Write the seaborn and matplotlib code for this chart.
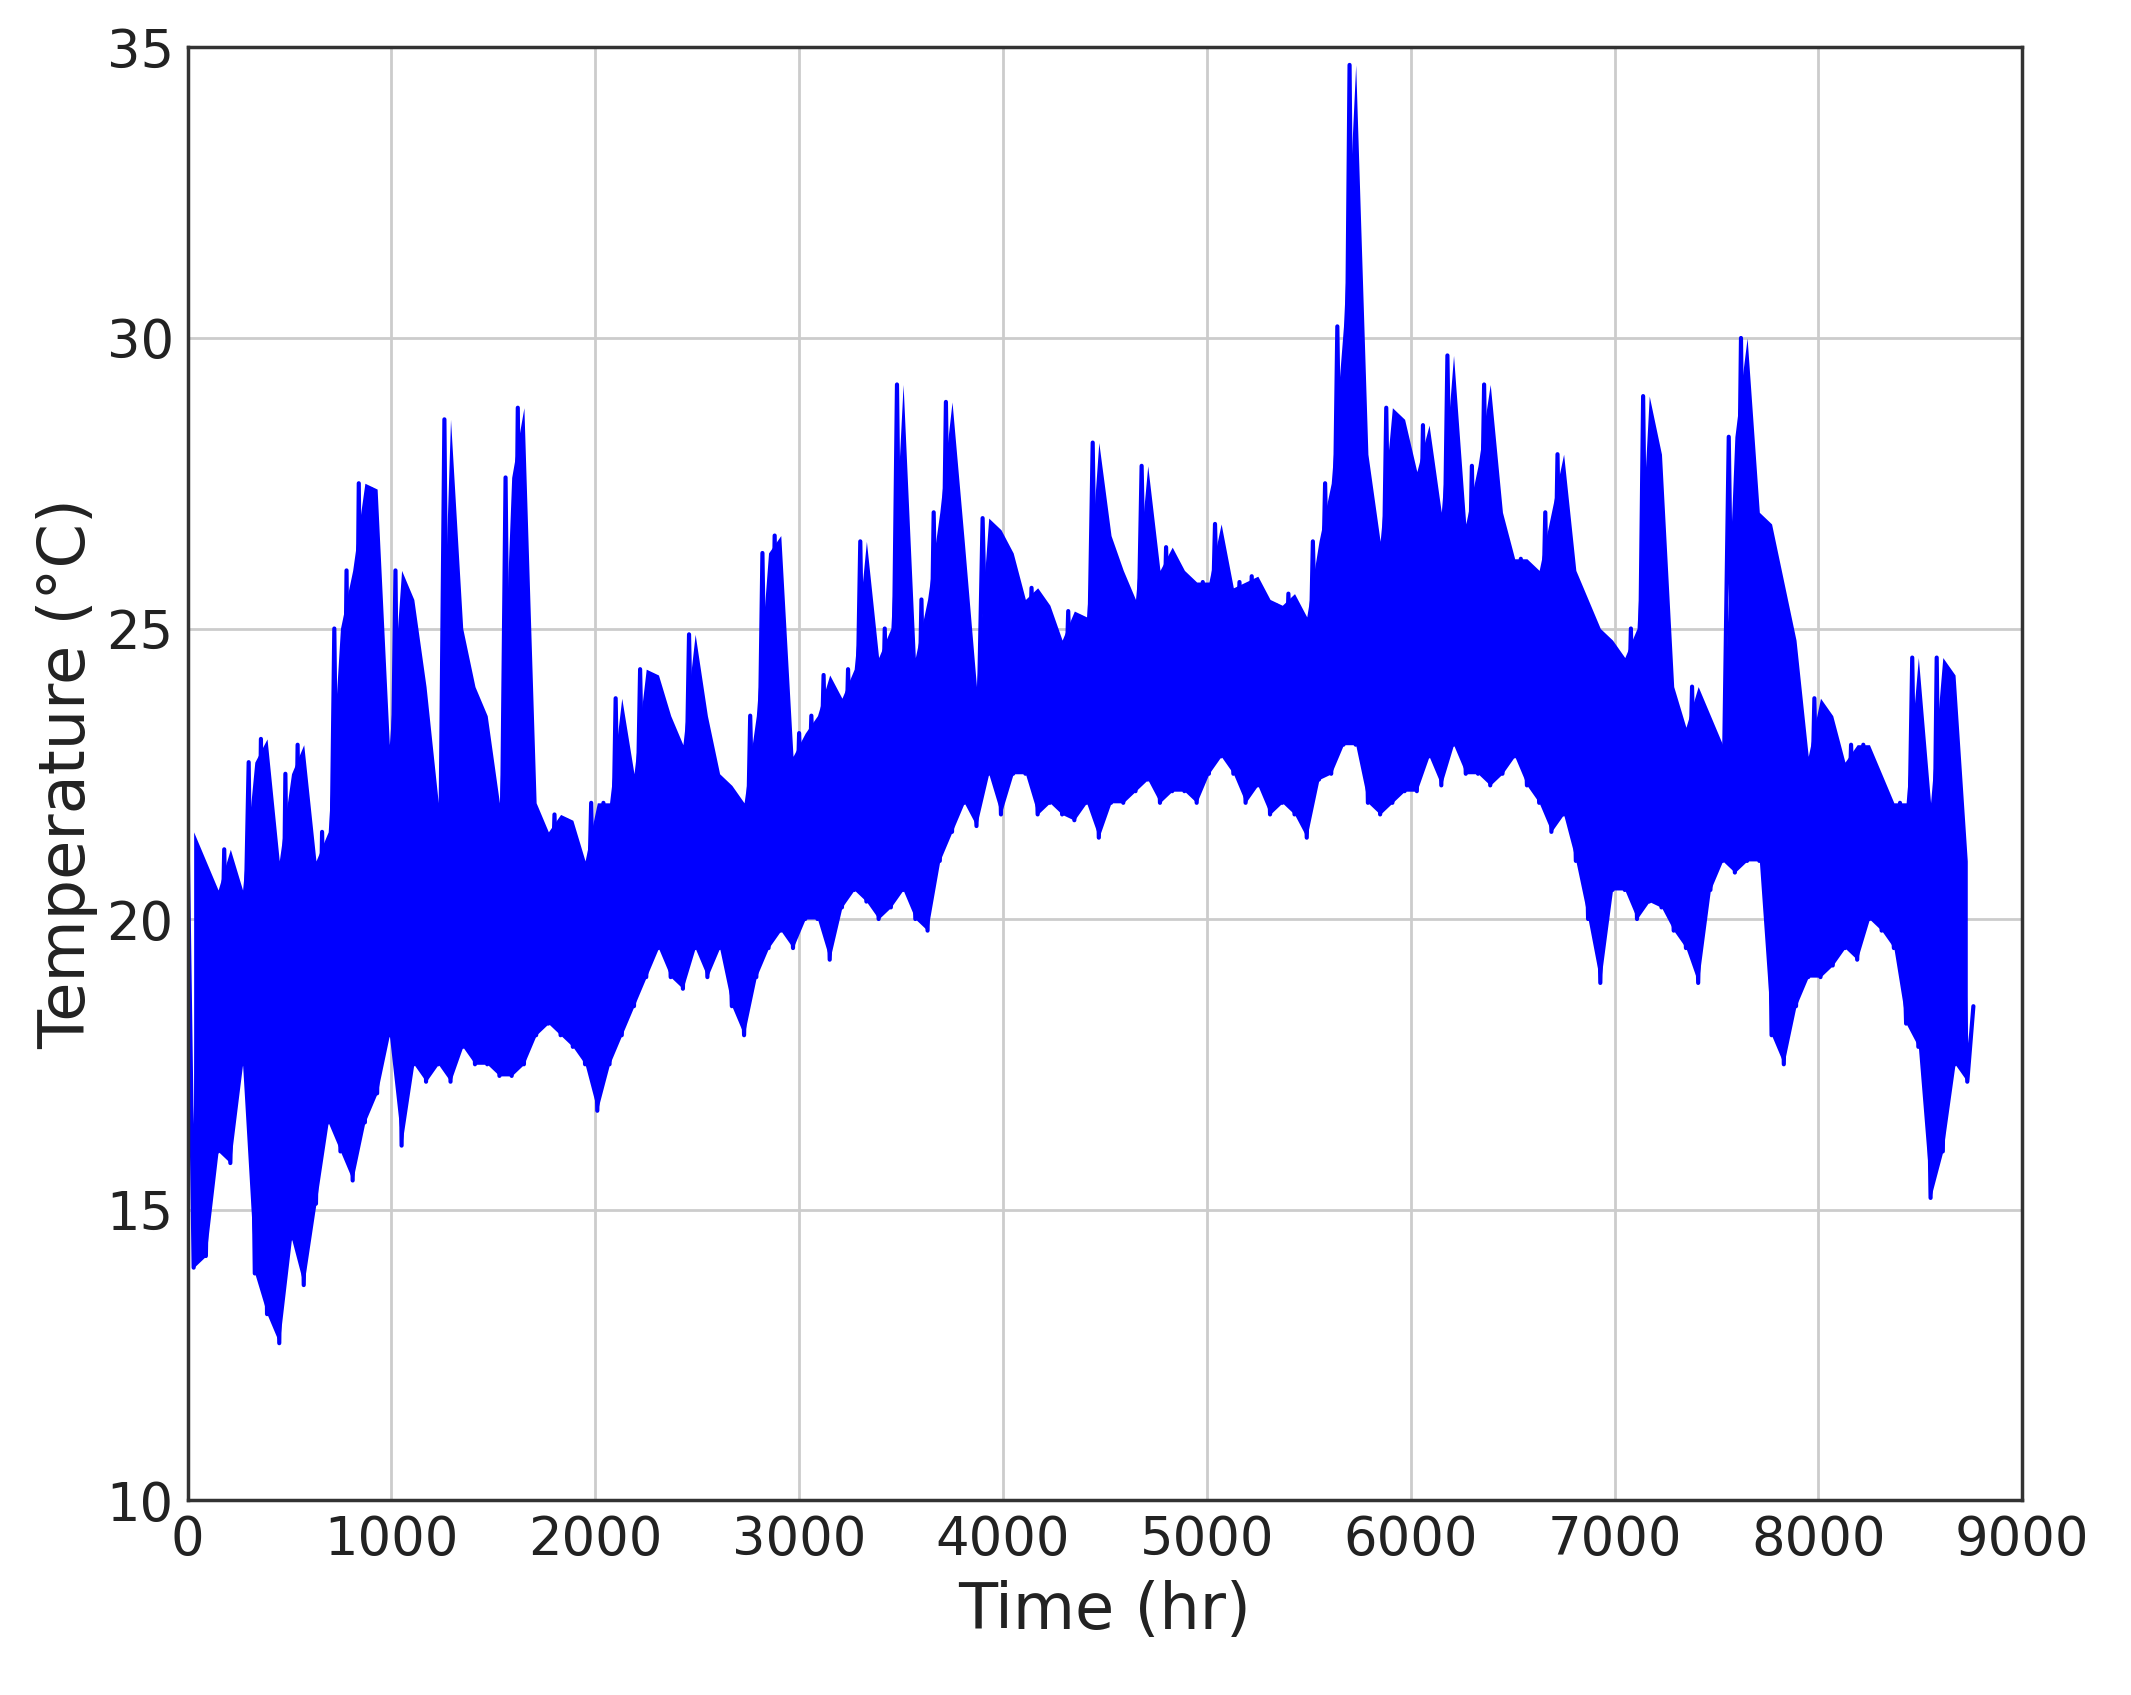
import numpy as np
import pandas as pd
import matplotlib
matplotlib.use("Agg")
import matplotlib.pyplot as plt
import seaborn as sns

# (high, low) pairs, each pair spanning 60 hours
pairs = [
 (21.5,14),(21,14.2),(20.5,16),(21.2,15.8),(20.5,17.5),(22.7,13.9),(23.1,13.2),(21,12.7),(22.5,14.5),(23,13.7),
 (21,15.1),(21.5,16.5),(25,16),(26,15.5),(27.5,16.5),(27.4,17),(23,18),(26,16.1),(25.5,17.5),(24,17.2),
 (22,17.5),(28.6,17.2),(25,17.8),(24,17.5),(23.5,17.5),(22,17.3),(27.6,17.3),(28.8,17.5),(22,18),(21.5,18.2),
 (21.8,18),(21.7,17.8),(21,17.5),(22,16.7),(22,17.5),(23.8,18),(22.5,18.5),(24.3,19),(24.2,19.5),(23.5,19),
 (23,18.8),(24.9,19.5),(23.5,19),(22.5,19.5),(22.3,18.5),(22,18),(23.5,19),(26.3,19.5),(26.6,19.8),(22.8,19.5),
 (23.2,20),(23.5,20),(24.2,19.3),(23.8,20.2),(24.3,20.5),(26.5,20.3),(24.5,20),(25,20.2),(29.2,20.5),(24.5,20),
 (25.5,19.8),(27,21),(28.9,21.5),(26.5,22),(24,21.6),(26.9,22.5),(26.7,21.8),(26.3,22.5),(25.5,22.5),(25.7,21.8),
 (25.4,22),(24.8,21.8),(25.3,21.7),(25.2,22),(28.2,21.4),(26.6,22),(26,22),(25.5,22.2),(27.8,22.4),(26,22),
 (26.4,22.2),(26,22.2),(25.8,22),(25.8,22.5),(26.8,22.8),(25.7,22.5),(25.8,22),(25.9,22.3),(25.5,21.8),(25.4,22),
 (25.6,21.8),(25.2,21.4),(26.5,22.4),(27.5,22.5),(30.2,23),(34.7,23),(28,22),(26.5,21.8),(28.8,22),(28.6,22.2),
 (27.7,22.2),(28.5,22.8),(27,22.3),(29.7,23),(26.8,22.5),(27.8,22.5),(29.2,22.3),(27,22.5),(26.2,22.8),(26.2,22.3),
 (26,22),(27,21.5),(28,21.8),(26,21),(25.5,20),(25,18.9),(24.8,20.5),(24.5,20.5),(25,20),(29,20.3),
 (28,20.2),(24,19.8),(23.3,19.5),(24,18.9),(23.5,20.5),(23,21),(28.3,20.8),(30,21),(27,21),(26.8,18),
 (25.8,17.5),(24.8,18.5),(22.8,19),(23.8,19),(23.5,19.2),(22.7,19.5),(23,19.3),(23,20),(22.5,19.8),(22,19.5),
 (22,18.2),(24.5,17.8),(22,15.2),(24.5,16),(24.2,17.5),(21,17.2),
]
highs = [p[0] for p in pairs]
lows = [p[1] for p in pairs]
temps = [v for p in pairs for v in p] + [18.5]
hours = [30 * i for i in range(len(temps))]
win_hours = [60 * i + 30 for i in range(len(pairs))]
df = pd.DataFrame({"Time": hours, "Temp": temps})

sns.set_style("whitegrid")
plt.rcParams['font.family'] = ['DejaVu Sans']
fig = plt.figure(figsize=(21.31, 16.95), dpi=100)
ax = fig.add_axes([0.088, 0.115, 0.861, 0.857])
ax.fill_between(win_hours, lows, highs, color="#0000ff", linewidth=0)
sns.lineplot(data=df, x="Time", y="Temp", color="#0000ff", linewidth=3, ax=ax)
ax.set_xlim(0, 9000)
ax.set_ylim(10, 35)
ax.set_xticks(range(0, 9001, 1000))
ax.set_yticks(range(10, 36, 5))
ax.grid(True, color="#cccccc", linewidth=2)
for s in ax.spines.values():
    s.set_color("#333333")
    s.set_linewidth(2.5)
ax.tick_params(labelsize=38, colors="#222222", length=0, pad=10)
ax.set_xlabel("Time (hr)", fontsize=46, color="#222222", labelpad=10)
ax.set_ylabel("Temperature (°C)", fontsize=46, color="#222222", labelpad=6)
fig.savefig("out.png", dpi=100)
